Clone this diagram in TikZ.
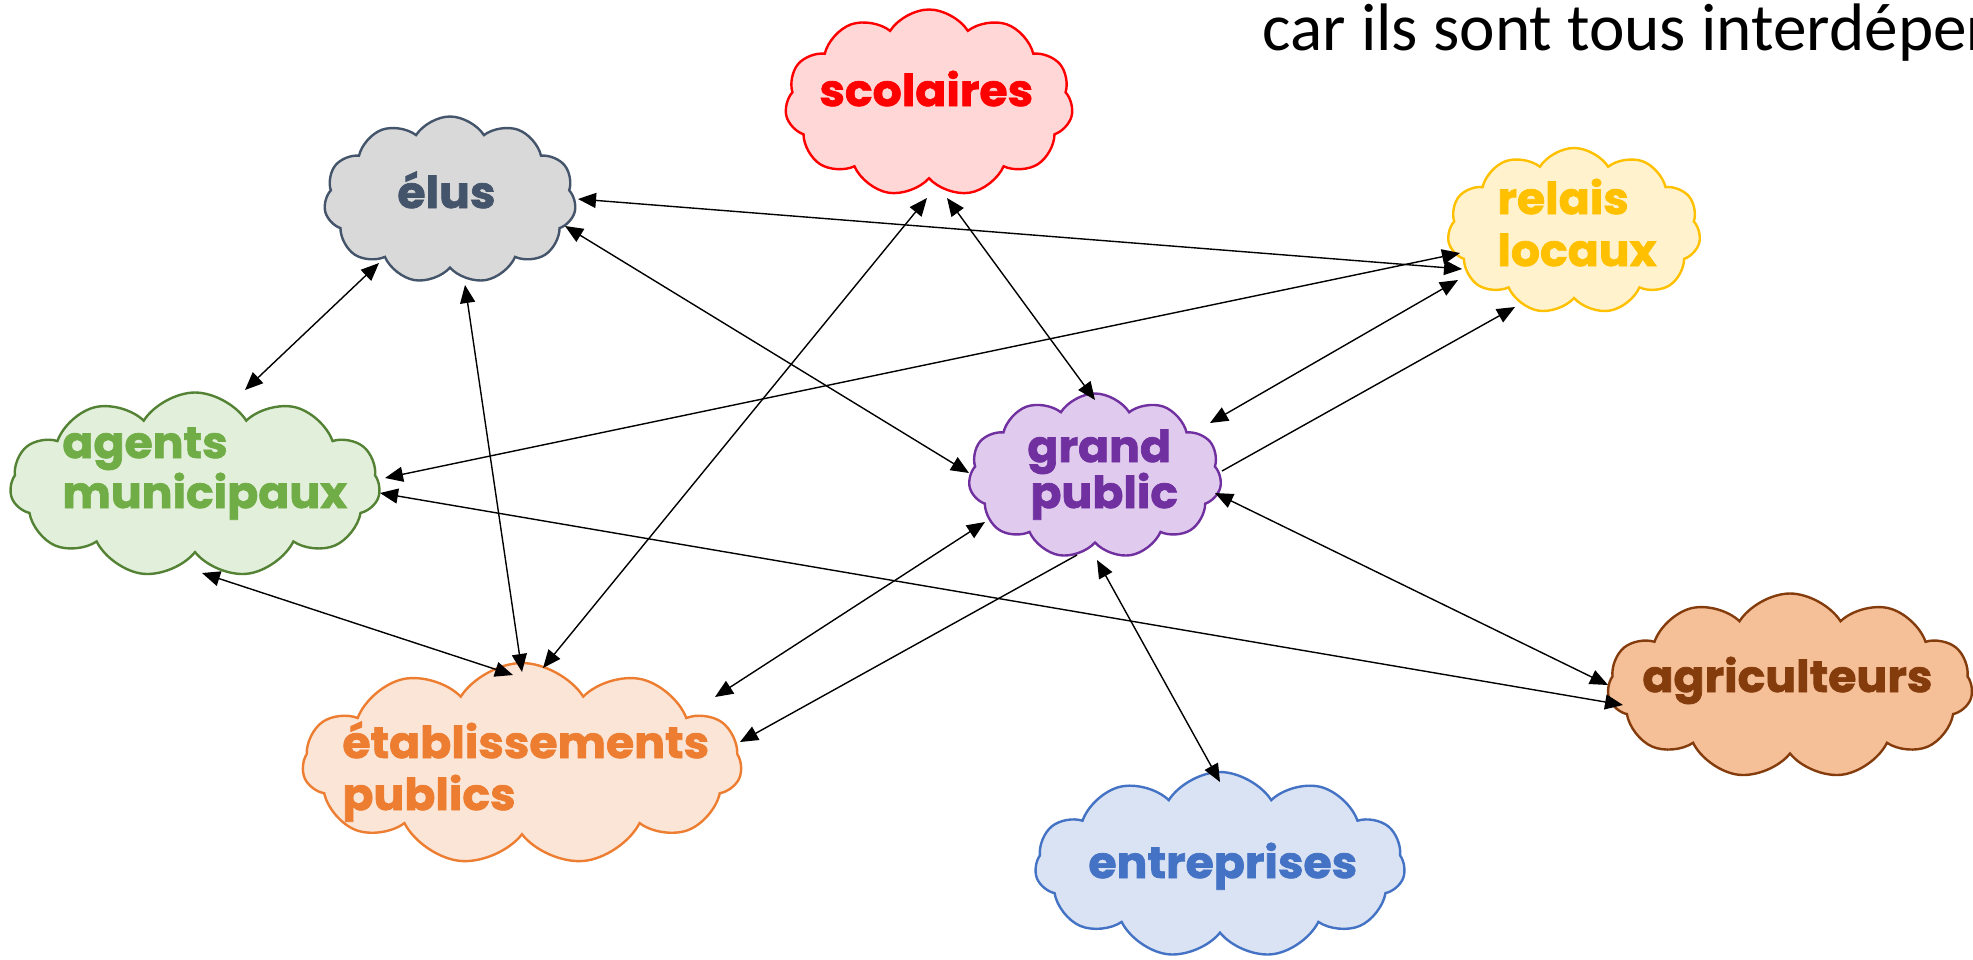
\documentclass[tikz,border=0pt]{standalone}
\usepackage{fontspec}
\setmainfont{Carlito}
\newfontfamily\cloudfont{Poppins}[FakeStretch=1.04, FakeBold=1.6]
\usetikzlibrary{shapes.symbols,arrows.meta}
\definecolor{scolF}{HTML}{FFD7D7}\definecolor{scolD}{HTML}{FF0000}
\definecolor{elusF}{HTML}{D9D9D9}\definecolor{elusD}{HTML}{44546A}
\definecolor{relF}{HTML}{FFF2CC}\definecolor{relD}{HTML}{FFC000}
\definecolor{agF}{HTML}{E2EFDA}\definecolor{agD}{HTML}{548235}\definecolor{agT}{HTML}{70AD47}
\definecolor{gpF}{HTML}{E0CBEE}\definecolor{gpD}{HTML}{7030A0}
\definecolor{agrF}{HTML}{F5BF98}\definecolor{agrD}{HTML}{843C0C}
\definecolor{etF}{HTML}{FBE5D6}\definecolor{etD}{HTML}{ED7D31}
\definecolor{enF}{HTML}{DAE3F3}\definecolor{enD}{HTML}{4472C4}
\begin{document}
\begin{tikzpicture}[x=0.5pt,y=-0.5pt,
  cloudbox/.style={cloud, cloud puffs=11, cloud puff arc=115, cloud ignores aspect, inner sep=0pt, line width=1.2pt},
  lbl/.style={font=\cloudfont\bfseries\fontsize{22pt}{24pt}\selectfont, inner sep=0pt, anchor=base west},
  tipA/.tip={Triangle[length=9pt,width=7.5pt]},
  conn/.style={line width=0.7pt, tipA-tipA},
  oneway/.style={line width=0.7pt, -tipA}]
\useasboundingbox (0,0) rectangle (1973,959);
\clip (0,0) rectangle (1973,959);
% title text
\node[font=\fontsize{33.6pt}{37pt}\selectfont, inner sep=0pt, anchor=base west] (title) at (1262,50) {car ils sont tous interdéper};
% clouds
\node[cloudbox, fill=scolF, draw=scolD, minimum width=144pt, minimum height=93.5pt] (scol) at (929,103) {};
\node[cloudbox, fill=elusF, draw=elusD, minimum width=126pt, minimum height=83.5pt] (elus) at (450,200) {};
\node[cloudbox, fill=relF, draw=relD, minimum width=126.5pt, minimum height=83pt] (relais) at (1574,231) {};
\node[cloudbox, fill=agF, draw=agD, minimum width=185pt, minimum height=92.5pt] (agents) at (195,485) {};
\node[cloudbox, fill=gpF, draw=gpD, minimum width=126.5pt, minimum height=82.5pt] (gp) at (1095,476) {};
\node[cloudbox, fill=agrF, draw=agrD, minimum width=182.5pt, minimum height=92.5pt] (agri) at (1790,686) {};
\node[cloudbox, fill=etF, draw=etD, minimum width=219.5pt, minimum height=101pt] (etab) at (522,764) {};
\node[cloudbox, fill=enF, draw=enD, minimum width=185pt, minimum height=93pt] (entr) at (1220,865) {};
% labels
\node[lbl, text=scolD] (scolT) at (819,106) {scolaires};
\node[lbl, text=elusD] (elusT) at (397,208) {élus};
\node[lbl, text=relD] (relT1) at (1497,214) {relais};
\node[lbl, text=relD] (relT2) at (1497,266) {locaux};
\node[lbl, text=agT] (agT1) at (62,458) {agents};
\node[lbl, text=agT] (agT2) at (62,508) {municipaux};
\node[lbl, text=gpD] (gpT1) at (1027,462) {grand};
\node[lbl, text=gpD] (gpT2) at (1030,508) {public};
\node[lbl, text=agrD] (agrT) at (1642,692) {agriculteurs};
\node[lbl, text=etD] (etT1) at (342,758) {établissements};
\node[lbl, text=etD] (etT2) at (342,810) {publics};
\node[lbl, text=enD] (enT) at (1088,878) {entreprises};
% connectors
\draw[conn] ([shift={(128,-1)}]elus.center) -- ([shift={(-112,38)}]relais.center);
\draw[conn] ([shift={(190,-7)}]agents.center) -- ([shift={(-114,22)}]relais.center);
\draw[conn] ([shift={(115,26)}]elus.center) -- ([shift={(-126,-3)}]gp.center);
\draw[conn] ([shift={(-71,63)}]elus.center) -- ([shift={(50,-95)}]agents.center);
\draw[conn] ([shift={(15,85)}]elus.center) -- ([shift={(0,-92)}]etab.center);
\draw[conn] ([shift={(7,88)}]agents.center) -- ([shift={(-9,-89)}]etab.center);
\draw[conn] ([shift={(-2,95)}]scol.center) -- ([shift={(21,-96)}]etab.center);
\draw[conn] ([shift={(18,95)}]scol.center) -- ([shift={(0,-76)}]gp.center);
\draw[conn] ([shift={(-116,49)}]relais.center) -- ([shift={(115,-53)}]gp.center);
\draw[oneway] ([shift={(127,-5)}]gp.center) -- ([shift={(-59,76)}]relais.center);
\draw[conn] ([shift={(120,17)}]gp.center) -- ([shift={(-182,-1)}]agri.center);
\draw[conn] ([shift={(185,8)}]agents.center) -- ([shift={(-167,19)}]agri.center);
\draw[conn] ([shift={(-110,46)}]gp.center) -- ([shift={(193,-67)}]etab.center);
\draw[oneway] ([shift={(-18,79)}]gp.center) -- ([shift={(218,-22)}]etab.center);
\draw[conn] ([shift={(2,84)}]gp.center) -- ([shift={(0,-83)}]entr.center);
\end{tikzpicture}
\end{document}
